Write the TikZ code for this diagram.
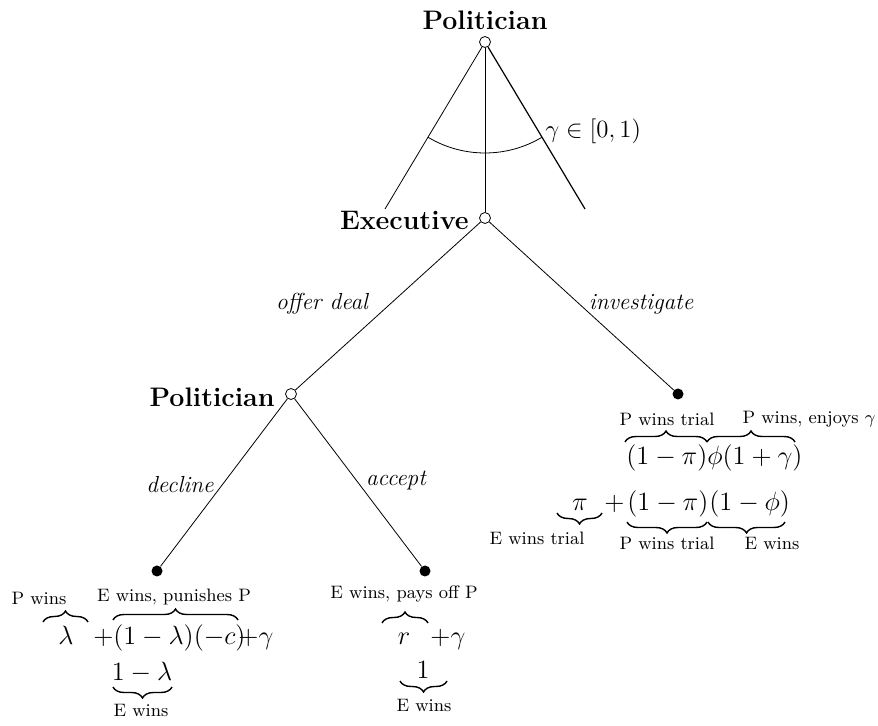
\RequirePackage{fix-cm}
\documentclass[tikz,border=0pt,12pt]{standalone}
\usetikzlibrary{decorations.pathreplacing}
\begin{document}
\begin{tikzpicture}[x=0.5pt,y=0.5pt,
  opennode/.style={circle,draw,fill=white,inner sep=0pt,minimum size=5.5pt},
  termnode/.style={circle,fill=black,inner sep=0pt,minimum size=5.5pt},
  player/.style={font=\fontsize{13.4}{16}\selectfont\bfseries,inner sep=0pt},
  act/.style={font=\fontsize{11.6}{14}\selectfont\itshape,inner sep=0pt},
  pay/.style={font=\fontsize{13.2}{16}\selectfont,inner sep=0pt},
  blab/.style={font=\fontsize{9}{11}\selectfont,inner sep=0pt},
  brc/.style={decorate,decoration={brace,amplitude=5.5pt},line width=0.7pt},
]
\useasboundingbox (0,0) rectangle (878,-726);
% tree nodes
\node[opennode] (root) at (485,-42) {};
\node[opennode] (exec) at (485,-218) {};
\node[opennode] (pol) at (291,-394) {};
\node[termnode] (inv) at (678,-394) {};
\node[termnode] (dec) at (157,-571) {};
\node[termnode] (acc) at (425,-571) {};
\coordinate (cl) at (385,-209);
\coordinate (cr) at (585,-209);
% connectors
\draw (root) -- (cl);
\draw[semithick] (root) -- (cr);
\draw (root) -- (exec);
\draw ([shift={(239.24:55.5pt)}]root.center) arc[start angle=239.24, end angle=300.76, radius=55.5pt];
\draw (exec) -- (pol);
\draw (exec) -- (inv);
\draw (pol) -- (dec);
\draw (pol) -- (acc);
% player labels
\node[player,anchor=base] (t1) at (485,-30) {Politician};
\node[player,anchor=base east] (t2) at (469,-230) {Executive};
\node[player,anchor=base east] (t3) at (275,-407) {Politician};
\node[anchor=west,inner sep=0pt,font=\fontsize{12.4}{15}\selectfont] (gam) at (545,-131) {$\gamma\in[0,1)$};
% action labels
\node[act] (a1) at (322,-304) {offer deal};
\node[act] (a2) at (641,-304) {investigate};
\node[act] (a3) at (180,-485) {decline};
\node[act] (a4) at (396,-481) {accept};
% decline payoffs
\node[pay,anchor=base] (d1) at (66,-645) {$\lambda$};
\node[pay,anchor=base west] (d2) at (93,-645) {$+$};
\node[pay,anchor=base west] (d3) at (113,-645) {$(1-\lambda)(-c)$};
\node[pay,anchor=base west] (d4) at (238,-645) {$+\gamma$};
\draw[brc] (43,-622) -- (88,-622);
\draw[brc] (113,-620) -- (238,-620);
\node[blab,anchor=base] (dl1) at (39,-604) {P wins};
\node[blab,anchor=base] (dl2) at (174,-602) {E wins, punishes P};
\node[pay,anchor=base] (d5) at (142,-680) {$1-\lambda$};
\draw[brc] (172,-687) -- (113,-687);
\node[blab,anchor=base] (dl3) at (141,-716) {E wins};
% accept payoffs
\node[blab,anchor=base] (al1) at (404,-599) {E wins, pays off P};
\draw[brc] (382,-623) -- (428,-623);
\node[pay,anchor=base] (r1) at (404,-645) {$r$};
\node[pay,anchor=base west] (r2) at (430,-645) {$+\gamma$};
\node[pay,anchor=base] (r3) at (423,-678) {$1$};
\draw[brc] (447,-681) -- (400,-681);
\node[blab,anchor=base] (al2) at (424,-711) {E wins};
% investigate payoffs
\node[blab,anchor=base] (il1) at (667,-426) {P wins trial};
\node[blab,anchor=base] (il2) at (809,-424) {P wins, enjoys $\gamma$};
\draw[brc] (625,-442) -- (707,-442);
\draw[brc] (707,-442) -- (795,-442);
\node[pay,anchor=base west] (i1) at (626,-465) {$(1-\pi)$};
\node[pay,anchor=base west] (i2) at (707,-465) {$\phi(1+\gamma)$};
\node[pay,anchor=base] (i3) at (580,-511) {$\pi$};
\node[pay,anchor=base west] (i4) at (604,-511) {$+$};
\node[pay,anchor=base west] (i5) at (627,-511) {$(1-\pi)$};
\node[pay,anchor=base west] (i6) at (709,-511) {$(1-\phi)$};
\draw[brc] (602,-513) -- (557,-513);
\draw[brc] (707,-522) -- (627,-522);
\draw[brc] (785,-522) -- (708,-522);
\node[blab,anchor=base] (il3) at (537,-545) {E wins trial};
\node[blab,anchor=base] (il4) at (667,-550) {P wins trial};
\node[blab,anchor=base] (il5) at (772,-550) {E wins};
\end{tikzpicture}
\end{document}
